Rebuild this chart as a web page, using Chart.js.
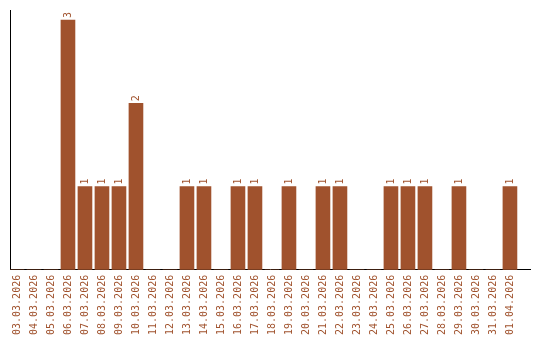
<!DOCTYPE html>
<html>
<head>
<meta charset="utf-8">
<script src="https://cdn.jsdelivr.net/npm/chart.js@4/dist/chart.umd.min.js"></script>
<style>
  html, body { margin: 0; padding: 0; background: #fff; }
  #wrap { width: 540px; height: 340px; }
</style>
</head>
<body>
<div id="wrap"><canvas id="chart" width="540" height="340"></canvas></div>
<script>
const dates = [
  '03.03.2026', '04.03.2026', '05.03.2026', '06.03.2026', '07.03.2026',
  '08.03.2026', '09.03.2026', '10.03.2026', '11.03.2026', '12.03.2026',
  '13.03.2026', '14.03.2026', '15.03.2026', '16.03.2026', '17.03.2026',
  '18.03.2026', '19.03.2026', '20.03.2026', '21.03.2026', '22.03.2026',
  '23.03.2026', '24.03.2026', '25.03.2026', '26.03.2026', '27.03.2026',
  '28.03.2026', '29.03.2026', '30.03.2026', '31.03.2026', '01.04.2026'
];
const counts = [
  0, 0, 0, 3, 1,
  1, 1, 2, 0, 0,
  1, 1, 0, 1, 1,
  0, 1, 0, 1, 1,
  0, 0, 1, 1, 1,
  0, 1, 0, 0, 1
];

const barColor = '#a0522d';
const monoFont = { family: '"DejaVu Sans Mono", monospace', size: 10 };

// value labels on top of the bars, turned like the date labels
const valueLabels = {
  id: 'valueLabels',
  afterDatasetsDraw(chart) {
    const ctx = chart.ctx;
    const meta = chart.getDatasetMeta(0);
    ctx.save();
    ctx.fillStyle = barColor;
    ctx.font = '10px "DejaVu Sans Mono", monospace';
    ctx.textAlign = 'left';
    ctx.textBaseline = 'middle';
    meta.data.forEach((bar, i) => {
      if (!counts[i]) return;
      ctx.save();
      ctx.translate(bar.x, bar.y - 2);
      ctx.rotate(-Math.PI / 2);
      ctx.fillText(String(counts[i]), 0, 0);
      ctx.restore();
    });
    ctx.restore();
  }
};

new Chart(document.getElementById('chart').getContext('2d'), {
  type: 'bar',
  data: {
    datasets: [{
      data: counts.map((c, i) => ({ x: i, y: c })),
      backgroundColor: barColor,
      borderWidth: 0,
      barThickness: 14,
    }],
  },
  options: {
    responsive: false,
    animation: false,
    layout: { padding: { top: 10, left: 10, right: 10, bottom: 0 } },
    plugins: {
      legend: { display: false },
      tooltip: { enabled: false },
    },
    scales: {
      x: {
        type: 'linear',
        offset: false,
        min: -0.41,
        max: 30.18,
        grid: { display: false, drawTicks: false },
        border: { display: true, color: '#000', width: 1 },
        afterBuildTicks: (axis) => {
          axis.ticks = dates.map((d, i) => ({ value: i }));
        },
        ticks: {
          autoSkip: false,
          minRotation: 90,
          maxRotation: 90,
          padding: 5,
          color: barColor,
          font: monoFont,
          callback: (value) => dates[value],
        },
      },
      y: {
        min: 0,
        max: 3.12,
        grid: { display: false, drawTicks: false },
        border: { display: true, color: '#000', width: 1 },
        ticks: { display: false },
      },
    },
  },
  plugins: [valueLabels],
});
</script>
</body>
</html>
